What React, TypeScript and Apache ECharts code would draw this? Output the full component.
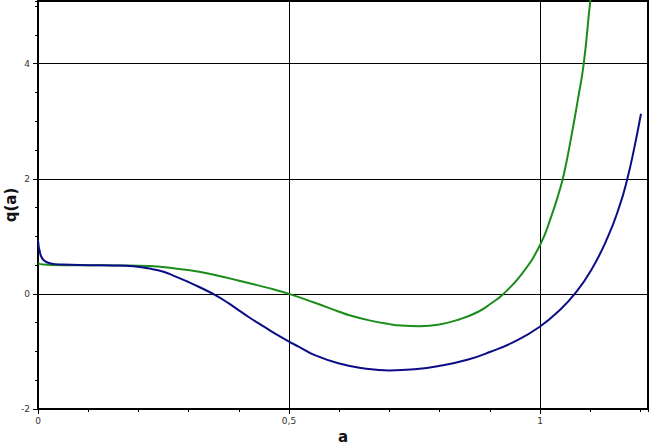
import React, { useEffect, useRef } from "react";
import * as echarts from "echarts";

const blueA = [0, 0.005, 0.012, 0.025, 0.05, 0.1, 0.15, 0.19, 0.222, 0.25, 0.272, 0.3, 0.321, 0.355, 0.38, 0.4, 0.421, 0.45, 0.474, 0.5, 0.52, 0.55, 0.6, 0.65, 0.7, 0.75, 0.8, 0.857, 0.9, 0.956, 1.0, 1.036, 1.069, 1.102, 1.135, 1.158, 1.173, 1.188, 1.201];
const blueQ = [0.93, 0.68, 0.58, 0.53, 0.51, 0.5, 0.495, 0.48, 0.44, 0.385, 0.31, 0.205, 0.12, -0.03, -0.165, -0.285, -0.41, -0.57, -0.7, -0.83, -0.92, -1.06, -1.21, -1.295, -1.33, -1.31, -1.25, -1.14, -1.01, -0.8, -0.566, -0.306, 0.0, 0.415, 0.99, 1.52, 1.97, 2.55, 3.13];

const greenA = [0, 0.01, 0.05, 0.1, 0.15, 0.222, 0.27, 0.321, 0.37, 0.421, 0.46, 0.5, 0.55, 0.6, 0.62, 0.66, 0.7, 0.724, 0.76, 0.8, 0.84, 0.877, 0.9, 0.927, 0.963, 1.0, 1.022, 1.039, 1.048, 1.062, 1.075, 1.087, 1.1, 1.105];
const greenQ = [0.53, 0.51, 0.5, 0.5, 0.495, 0.485, 0.445, 0.386, 0.295, 0.185, 0.1, 0.0, -0.15, -0.31, -0.37, -0.46, -0.525, -0.55, -0.56, -0.53, -0.44, -0.31, -0.18, 0.0, 0.34, 0.85, 1.34, 1.8, 2.1, 2.72, 3.36, 4.0, 5.09, 5.4];

const xLabels: Record<string, string> = { "0": "0", "0.5": "0,5", "1": "1" };
const yLabels: Record<string, string> = { "-2": "-2", "0": "0", "2": "2", "4": "4" };

const FONT = "DejaVu Sans";

export default function App() {
  const ref = useRef<HTMLDivElement>(null);
  useEffect(() => {
    if (!ref.current) return;
    const chart = echarts.init(ref.current, null, { renderer: "svg" });
    const xMin = 0, xMax = 1.215, yMin = -2, yMax = 5.09;
    chart.setOption({
      animation: false,
      backgroundColor: "#fff",
      grid: { left: 38, right: 2, top: 1, bottom: 36, containLabel: false, outerBoundsMode: "none", show: true, borderColor: "#000", borderWidth: 2, backgroundColor: "transparent" },
      xAxis: [
        {
          type: "value", min: xMin, max: xMax, interval: 0.5, position: "bottom",
          name: "a", nameLocation: "middle", nameGap: 20, nameMoveOverlap: false,
          nameTextStyle: { fontFamily: FONT, fontWeight: "bold", fontSize: 15, color: "#111" },
          axisLine: { show: true, onZero: false, lineStyle: { color: "#000", width: 2 } },
          axisTick: { show: true, length: 5, lineStyle: { color: "#000" } },
          axisLabel: { fontFamily: FONT, fontSize: 9, color: "#333", margin: 7, showMaxLabel: false,
            formatter: (v: number) => xLabels[String(v)] ?? "" },
          splitLine: { show: true, lineStyle: { color: "#000", width: 1 } },
        },
        {
          type: "value", min: xMin, max: xMax, interval: 0.1, position: "bottom",
          axisLine: { show: false, onZero: false },
          axisTick: { show: true, length: 3, lineStyle: { color: "#000" } },
          axisLabel: { show: false },
          splitLine: { show: false },
        },
      ],
      yAxis: [
        {
          type: "value", min: yMin, max: yMax, interval: 2, position: "left",
          name: "q(a)", nameLocation: "middle", nameGap: 20, nameRotate: 90, nameMoveOverlap: false,
          nameTextStyle: { fontFamily: FONT, fontWeight: "bold", fontSize: 15, color: "#111" },
          axisLine: { show: true, onZero: false, lineStyle: { color: "#000", width: 2 } },
          axisTick: { show: true, length: 5, lineStyle: { color: "#000" } },
          axisLabel: { fontFamily: FONT, fontSize: 9, color: "#333", margin: 8, showMaxLabel: false,
            formatter: (v: number) => yLabels[String(v)] ?? "" },
          splitLine: { show: true, lineStyle: { color: "#000", width: 1 } },
        },
        {
          type: "value", min: yMin, max: yMax, interval: 0.5, position: "left",
          axisLine: { show: false, onZero: false },
          axisTick: { show: true, length: 3, lineStyle: { color: "#000" } },
          axisLabel: { show: false },
          splitLine: { show: false },
        },
      ],
      series: [
        {
          type: "line", xAxisIndex: 0, yAxisIndex: 0, showSymbol: false, smooth: 0.5, clip: true,
          lineStyle: { color: "#1a8c1a", width: 2 },
          data: greenA.map((a, i) => [a, greenQ[i]]),
        },
        {
          type: "line", xAxisIndex: 0, yAxisIndex: 0, showSymbol: false, smooth: 0.5, clip: true,
          lineStyle: { color: "#0c0c88", width: 2 },
          data: blueA.map((a, i) => [a, blueQ[i]]),
        },
      ],
    });
    return () => chart.dispose();
  }, []);
  return <div ref={ref} style={{ position: "fixed", left: 0, top: 0, width: 650, height: 445 }} />;
}
